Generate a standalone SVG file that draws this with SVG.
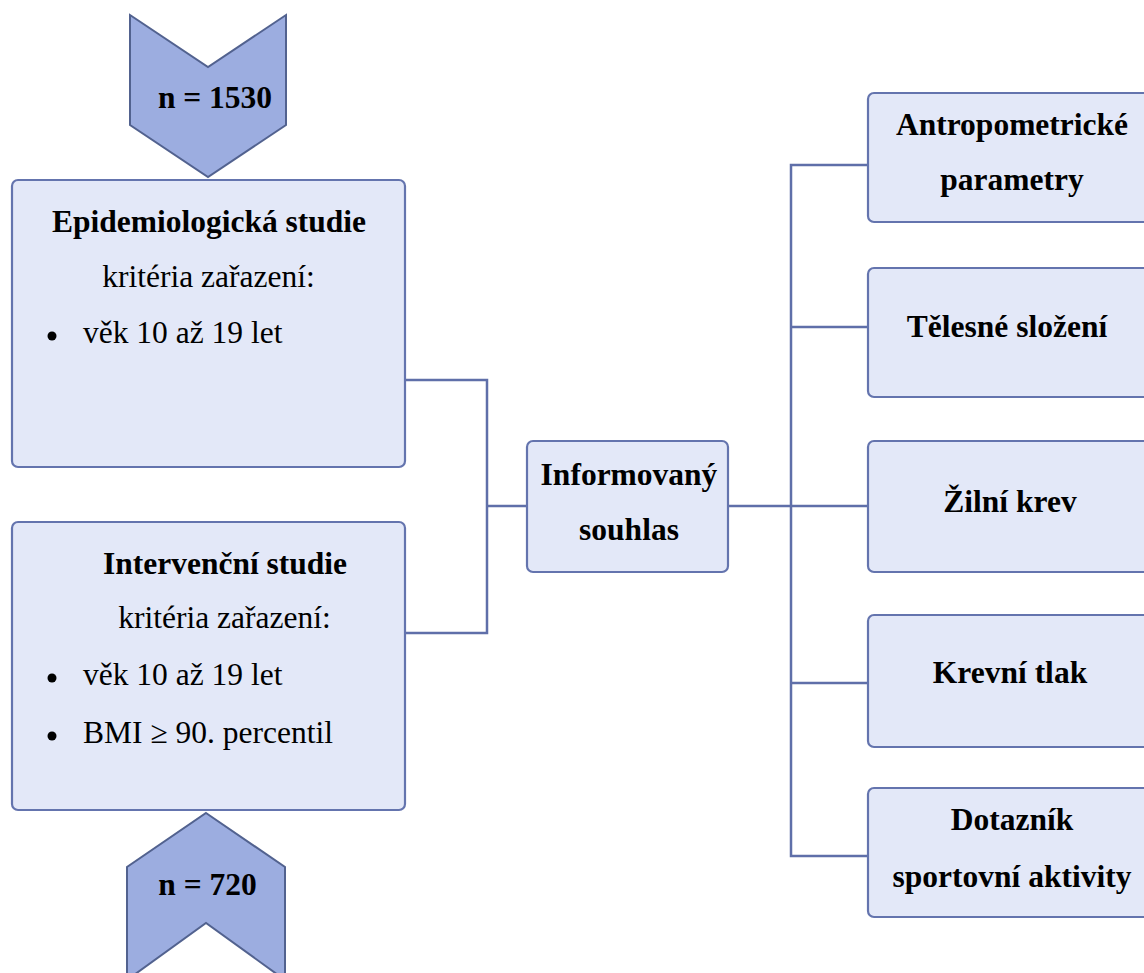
<svg xmlns="http://www.w3.org/2000/svg" width="1144" height="973" viewBox="0 0 1144 973">
<style>
.box{fill:#E3E8F8;stroke:#6474AE;stroke-width:2.2}
.chev{fill:#9CADE0;stroke:#52628F;stroke-width:2}
.line{fill:none;stroke:#5F6FA9;stroke-width:2.5}
.t{font-family:'Liberation Serif','Times New Roman',Tinos,'DejaVu Serif',serif;font-size:31.5px;fill:#000}
.b{font-weight:bold}
.c{text-anchor:middle}
</style>
<rect width="1144" height="973" fill="#fff"/>
<g id="connectors">
<polyline class="line" points="405,380 487,380 487,633 405,633"/>
<line class="line" x1="487" y1="506" x2="527" y2="506"/>
<line class="line" x1="728" y1="506" x2="868" y2="506"/>
<polyline class="line" points="868,165 791,165 791,856 868,856"/>
<line class="line" x1="791" y1="327" x2="868" y2="327"/>
<line class="line" x1="791" y1="683" x2="868" y2="683"/>
</g>
<g id="n1530">
<polygon class="chev" points="130,15 208,67 286,15 286,125 208,177 130,125"/>
<text class="t b c" x="215" y="108">n = 1530</text>
</g>
<g id="epid">
<rect class="box" x="12" y="180" width="393" height="287" rx="6"/>
<text class="t b c" x="209" y="232">Epidemiologická studie</text>
<text class="t c" x="208.5" y="287">kritéria zařazení:</text>
<circle cx="52" cy="336" r="4.5"/>
<text class="t" x="83" y="343">věk 10 až 19 let</text>
</g>
<g id="interv">
<rect class="box" x="12" y="522" width="393" height="288" rx="6"/>
<text class="t b c" x="225" y="574">Intervenční studie</text>
<text class="t c" x="224.5" y="628">kritéria zařazení:</text>
<circle cx="52" cy="678" r="4.5"/>
<text class="t" x="83" y="685">věk 10 až 19 let</text>
<circle cx="52" cy="736" r="4.5"/>
<text class="t" x="83" y="743">BMI ≥ 90. percentil</text>
</g>
<g id="n720">
<polygon class="chev" points="206,813 285,867 285,980 206,923 127,980 127,867"/>
<text class="t b c" x="207.5" y="895">n = 720</text>
</g>
<g id="souhlas">
<rect class="box" x="527" y="441" width="201" height="131" rx="6"/>
<text class="t b c" x="629" y="485">Informovaný</text>
<text class="t b c" x="629" y="540">souhlas</text>
</g>
<g id="antropo">
<rect class="box" x="868" y="93" width="284" height="129" rx="6"/>
<text class="t b c" x="1012" y="135">Antropometrické</text>
<text class="t b c" x="1012" y="190">parametry</text>
</g>
<g id="teles">
<rect class="box" x="868" y="268" width="284" height="129" rx="6"/>
<text class="t b c" x="1007" y="337">Tělesné složení</text>
</g>
<g id="zilni">
<rect class="box" x="868" y="441" width="284" height="131" rx="6"/>
<text class="t b c" x="1010" y="512">Žilní krev</text>
</g>
<g id="krevni">
<rect class="box" x="868" y="615" width="284" height="132" rx="6"/>
<text class="t b c" x="1010" y="683">Krevní tlak</text>
</g>
<g id="dotaznik">
<rect class="box" x="868" y="788" width="284" height="129" rx="6"/>
<text class="t b c" x="1012" y="830">Dotazník</text>
<text class="t b c" x="1012" y="887">sportovní aktivity</text>
</g>
</svg>
